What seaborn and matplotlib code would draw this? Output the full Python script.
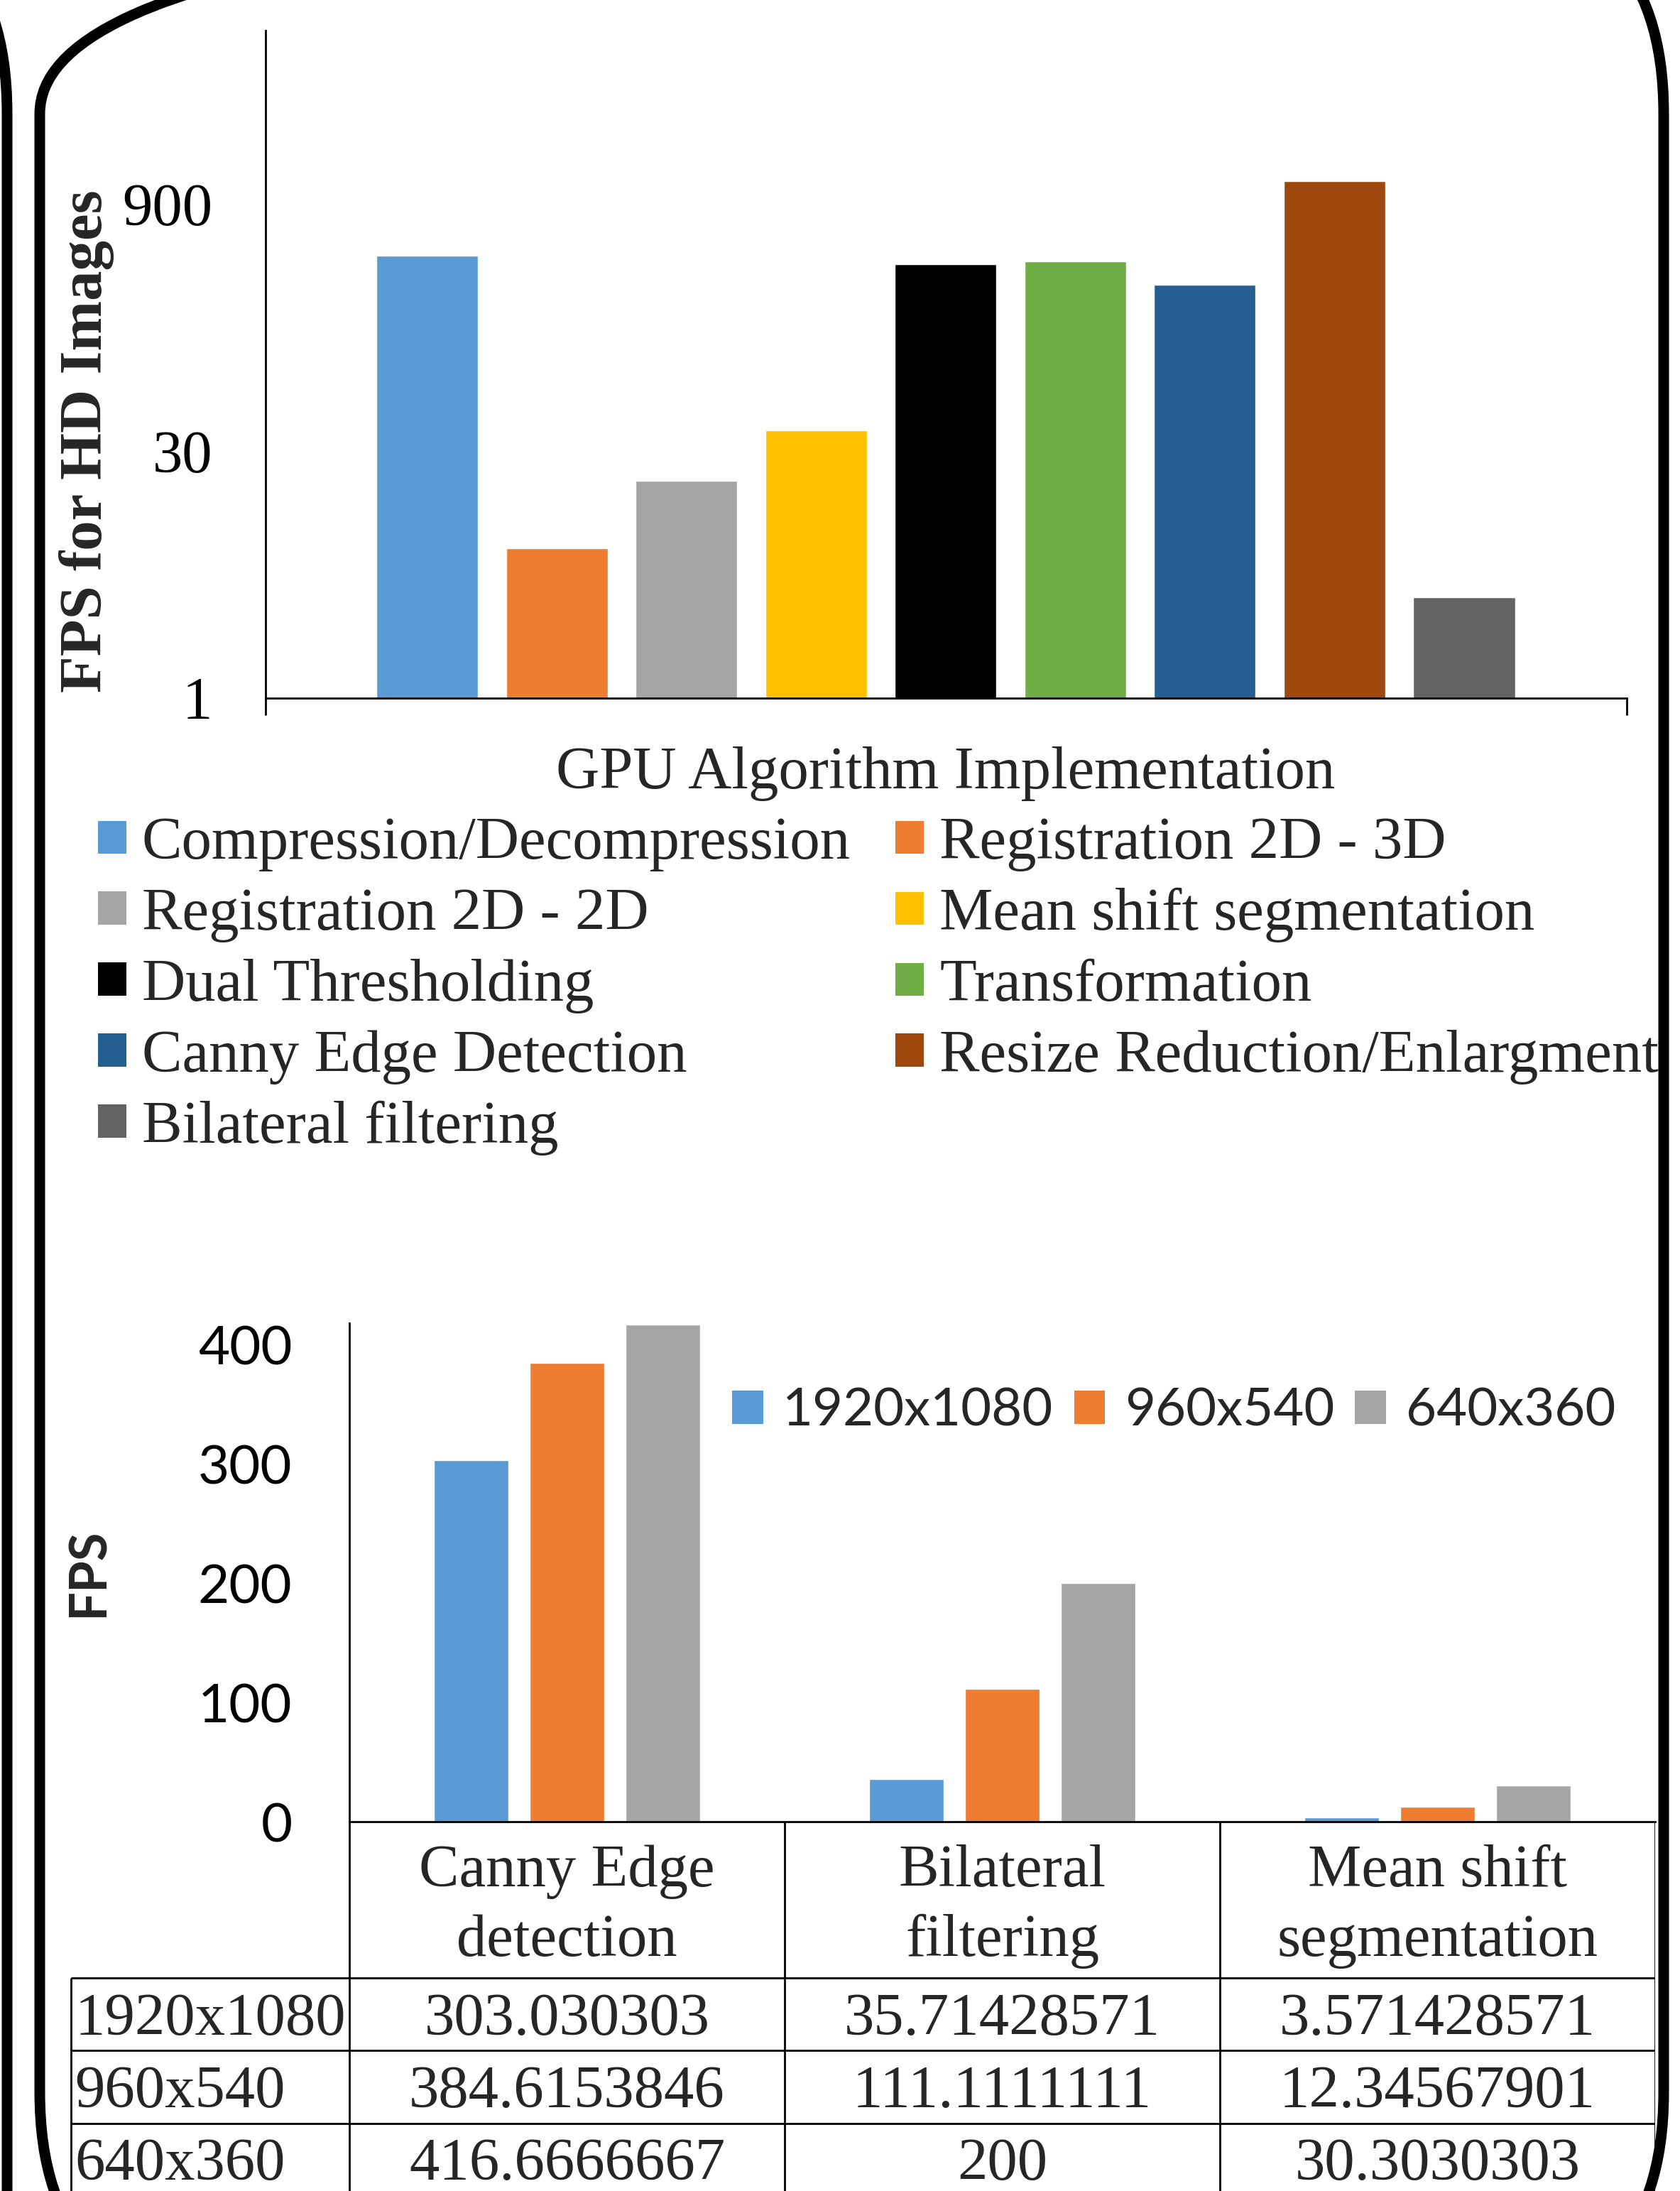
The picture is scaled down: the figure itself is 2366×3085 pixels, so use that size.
import numpy as np
import pandas as pd
import matplotlib
matplotlib.use("Agg")
import matplotlib.pyplot as plt
import seaborn as sns
from matplotlib.patches import FancyBboxPatch, Patch
from matplotlib.transforms import IdentityTransform
from matplotlib.ticker import NullLocator

# ---------------- data ----------------
algorithms = ["Compression/Decompression", "Registration 2D - 3D", "Registration 2D - 2D",
              "Mean shift segmentation", "Dual Thresholding", "Transformation",
              "Canny Edge Detection", "Resize Reduction/Enlargment", "Bilateral filtering"]
hd_fps = [443, 7.9, 20, 40, 395, 411, 296, 1238, 4.0]
algo_colors = ["#5B9BD5", "#ED7D31", "#A5A5A5", "#FFC000", "#000000",
               "#70AD47", "#255E91", "#9E480E", "#636363"]
hd_ticks = [1, 30, 900]

categories = ["Canny Edge\ndetection", "Bilateral\nfiltering", "Mean shift\nsegmentation"]
resolutions = ["1920x1080", "960x540", "640x360"]
fps_1920 = [303.030303, 35.71428571, 3.571428571]
fps_960 = [384.6153846, 111.1111111, 12.34567901]
fps_640 = [416.6666667, 200, 30.3030303]
res_colors = ["#5B9BD5", "#ED7D31", "#A5A5A5"]
fps_ticks = [0, 100, 200, 300, 400]

# ---------------- setup ----------------
sns.set_style("white")
plt.rcParams["font.family"] = ["Liberation Serif", "DejaVu Serif"]
plt.rcParams["axes.linewidth"] = 2

W, H, DPI = 2366, 3085, 100
fig = plt.figure(figsize=(W / DPI, H / DPI), dpi=DPI)
fig.patch.set_facecolor("white")


def px_axes(x0, y0, x1, y1):
    return fig.add_axes([x0 / W, 1 - y1 / H, (x1 - x0) / W, (y1 - y0) / H])


SERIF = 61
SANS = 55

# ---------------- top chart ----------------
ax1 = px_axes(374, 43, 2291, 983)
df_top = pd.DataFrame({"Algorithm": algorithms, "FPS": hd_fps})
sns.barplot(data=df_top, x="Algorithm", y="FPS", hue="Algorithm", palette=algo_colors,
            width=0.784, dodge=False, legend=False, saturation=1, ax=ax1)
ax1.set_yscale("log")
ax1.set_ylim(1, 9840)
x_lo, x_hi = -1.249, 9.255
ax1.set_xlim(x_lo, x_hi)
ax1.set_yticks(hd_ticks, labels=[str(t) for t in hd_ticks])
ax1.yaxis.set_minor_locator(NullLocator())
ax1.tick_params(axis="y", length=0, pad=54, labelsize=SERIF, colors="black")
ax1.set_xticks([x_lo, x_hi], labels=["", ""])
ax1.tick_params(axis="x", length=17, width=2, direction="out", color="black", bottom=True)
for s in ["top", "right"]:
    ax1.spines[s].set_visible(False)
for s in ["left", "bottom"]:
    ax1.spines[s].set_color("black")
    ax1.spines[s].set_linewidth(2)
ax1.set_ylabel("FPS for HD Images", fontsize=SERIF, fontweight="bold", va="center", ha="center")
ax1.yaxis.set_label_coords((122 - 374) / 1917, (983 - 621) / 940)
ax1.set_xlabel("GPU Algorithm Implementation", fontsize=SERIF, va="center", ha="center")
ax1.xaxis.set_label_coords((1332 - 374) / 1917, (983 - 1090) / 940)

handles = [Patch(facecolor=c, edgecolor="none") for c in algo_colors]
order = [0, 2, 4, 6, 8, 1, 3, 5, 7]
fig.legend([handles[i] for i in order], [algorithms[i] for i in order], ncol=2,
           loc="upper left", bbox_to_anchor=(138 / W, 1 - 1150 / H), frameon=False,
           fontsize=SERIF, handlelength=0.47, handleheight=0.47, handletextpad=0.26,
           columnspacing=0.75, labelspacing=0.27, borderpad=0, borderaxespad=0)

# ---------------- bottom chart ----------------
ax2 = px_axes(492, 1863, 2331, 2565)
df_bot = pd.DataFrame({
    "Category": categories * 3,
    "Resolution": [r for r in resolutions for _ in categories],
    "FPS": fps_1920 + fps_960 + fps_640,
})
sns.barplot(data=df_bot, x="Category", y="FPS", hue="Resolution", palette=res_colors,
            width=0.66, gap=0.218, saturation=1, legend=False, ax=ax2)
ax2.set_xlim(-0.5, 2.5)
ax2.set_ylim(0, 418)
ax2.set_yticks(fps_ticks, labels=[str(t) for t in fps_ticks])
ax2.tick_params(axis="y", length=0, pad=58, labelsize=SANS, labelfontfamily="Lato", colors="black")
ax2.set_xticks([])
ax2.set_xlabel("")
for s in ["top", "right"]:
    ax2.spines[s].set_visible(False)
for s in ["left", "bottom"]:
    ax2.spines[s].set_color("black")
    ax2.spines[s].set_linewidth(2)
ax2.set_ylabel("FPS", fontsize=52, fontweight="bold", family="Lato", va="center", ha="center")
ax2.yaxis.set_label_coords((125 - 492) / 1839, 0.5)

res_handles = [Patch(facecolor=c, edgecolor="none") for c in res_colors]
fig.legend(res_handles, resolutions, ncol=3, loc="center left",
           bbox_to_anchor=(1031 / W, 1 - 1987 / H), frameon=False,
           prop={"family": "Lato", "size": 53.5}, handlelength=0.59, handleheight=0.59,
           handletextpad=0.37, columnspacing=0.39, borderpad=0, borderaxespad=0)

# ---------------- data table ----------------
ax3 = px_axes(98, 2565, 2331, 3085)
left_edge = -1.143
ax3.set_xlim(left_edge, 2.5)
ax3.set_ylim(3085, 2565)
ax3.axis("off")
row_lines = [2785, 2887, 2990]
ax3.vlines([-0.5, 0.5, 1.5, 2.5], 2565, 3100, color="black", lw=2)
ax3.vlines([left_edge + 0.004], row_lines[0], 3100, color="black", lw=2)
ax3.hlines(row_lines, left_edge + 0.004, 2.5, color="black", lw=2)

for i, cat in enumerate(categories):
    for j, line in enumerate(cat.split("\n")):
        ax3.text(i, 2656 + 98 * j, line, ha="center", va="baseline", fontsize=SERIF)

table_values = [fps_1920, fps_960, fps_640]
for r, (res, vals) in enumerate(zip(resolutions, table_values)):
    base = 2865 + 102 * r
    ax3.text(left_edge + 0.012, base, res, ha="left", va="baseline", fontsize=SERIF)
    for i, v in enumerate(vals):
        ax3.text(i, base, "%.10g" % v, ha="center", va="baseline", fontsize=SERIF)

# ---------------- rounded frames ----------------
lw = 10.8
main_frame = FancyBboxPatch((56, -171), 2343 - 56, 3406,
                            boxstyle="round,pad=0,rounding_size=310",
                            transform=IdentityTransform(), fill=False,
                            edgecolor="black", linewidth=lw, zorder=20)
prev_frame = FancyBboxPatch((-2500, -700), 2510, 3935,
                            boxstyle="round,pad=0,rounding_size=310",
                            transform=IdentityTransform(), fill=False,
                            edgecolor="black", linewidth=lw, zorder=20)
fig.add_artist(main_frame)
fig.add_artist(prev_frame)

fig.savefig("out.png", dpi=DPI, facecolor="white")
